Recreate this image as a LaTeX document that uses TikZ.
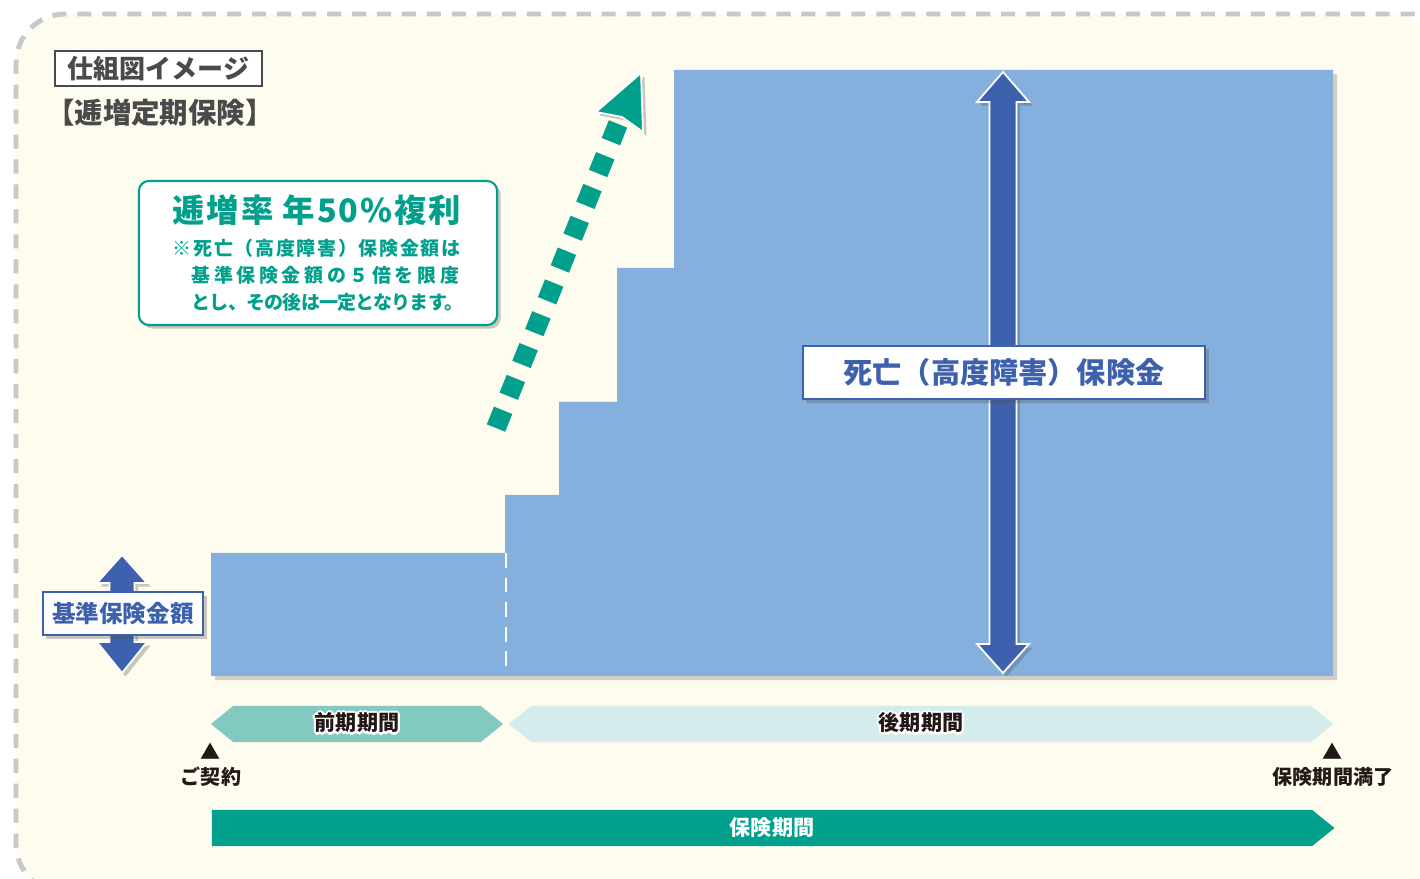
\documentclass[tikz,border=0pt]{standalone}
\usepackage{fontspec}
\setmainfont{Noto Sans CJK JP}
\usepackage{contour}
\contourlength{0.6pt}
\usetikzlibrary{shapes.symbols,shadows}

\definecolor{bgcream}{HTML}{FEFCEE}
\definecolor{stepblue}{HTML}{85B0DE}
\definecolor{darkblue}{HTML}{3D61AD}
\definecolor{mainteal}{HTML}{00A08C}
\definecolor{lightteal}{HTML}{82CAC0}
\definecolor{paleteal}{HTML}{D5ECEC}
\definecolor{dashgray}{HTML}{C8C8C8}
\definecolor{textgray}{HTML}{4A4A4A}
\definecolor{textdark}{HTML}{231815}

\newcommand{\notefont}{\fontsize{5.4}{7.7}\selectfont}

\begin{document}
\begin{tikzpicture} [
    x=0.01cm, y=-0.01cm,
    softshadow/.style={drop shadow={shadow xshift=1pt, shadow yshift=-1pt, opacity=0.3, fill=black!70}},
    labelbox/.style={rectangle, draw=darkblue, line width=0.5pt, fill=white, text=darkblue, inner sep=0pt, softshadow},
    dblarrow/.style={fill=darkblue, draw=white, line width=0.5pt, softshadow},
    period/.style={signal, signal pointer angle=78, minimum height=0.36cm, inner sep=0pt, font=\bfseries\fontsize{6}{7}\selectfont},
    marklabel/.style={align=center, text=textdark, inner sep=0pt, font=\bfseries\fontsize{5.7}{7.1}\selectfont}
]
    % 背景
    \clip (0,0) rectangle (1420,879);
    \fill[bgcream, rounded corners=14] (1440,893) -- (16,893) -- (16,14) -- (1440,14) -- cycle;
    \draw[dashgray, line width=1.4pt, dash pattern=on 4pt off 3.1pt, rounded corners=14] (1440,893) -- (16,893) -- (16,14) -- (1440,14);

    % 見出し
    \node[draw=textgray, line width=0.5pt, fill=white, text=textgray, minimum width=2.07cm, minimum height=0.35cm, inner sep=0pt, font=\bfseries\fontsize{7.4}{8}\selectfont] (title) at (158.5,68.5) {仕組図イメージ};
    \node[text=textgray, inner sep=0pt, font=\bfseries\fontsize{8.1}{9}\selectfont] (subtitle) at (160,113) {【逓増定期保険】};

    % 保険金の階段
    \fill[stepblue, drop shadow={shadow xshift=1.2pt, shadow yshift=-1.2pt, opacity=0.25, fill=black!70}]
        (211,553) -- (505,553) -- (505,495) -- (559,495) -- (559,402) -- (617,402) -- (617,268)
        -- (674,268) -- (674,70) -- (1333,70) -- (1333,676) -- (211,676) -- cycle;
    \draw[white, line width=0.8pt, dash pattern=on 4.2pt off 2.8pt] (506,553) -- (506,676);

    % 説明
    \node[rectangle, rounded corners=0.1cm, draw=mainteal, line width=0.6pt, fill=white, text=mainteal,
        minimum width=3.58cm, minimum height=1.44cm, align=left, inner sep=0pt, softshadow,
        font=\bfseries\notefont] (note) at (318,253) {%
        {\fontsize{9.2}{10}\selectfont\addfontfeature{LetterSpace=6}逓増率 年50\%複利}\\[1.7pt]
        {\notefont\addfontfeature{LetterSpace=9}※死亡（高度障害）保険金額は}\\
        {\notefont\phantom{※}\addfontfeature{LetterSpace=19}基準保険金額の５倍を限度}\\
        {\notefont\phantom{※}\addfontfeature{LetterSpace=-4}とし、その後は一定となります。}};

    % 逓増の矢印
    \coordinate (rise start) at (496,428);
    \coordinate (rise end) at (618,124);
    \draw[black, opacity=0.2, line width=5.6pt, dash pattern=on 5.4pt off 4.35pt, xshift=1.5, yshift=2] (rise start) -- (rise end);
    \draw[mainteal, line width=5.6pt, dash pattern=on 5.4pt off 4.35pt] (rise start) -- (rise end);
    \fill[mainteal, draw=white, line width=0.5pt, softshadow] (641,73) -- (643,132) -- (622,117) -- (596,112) -- cycle;

    % 死亡保険金
    \fill[dblarrow] (1003,72) -- (1029,102) -- (1016.5,102) -- (1016.5,644) -- (1029,644) -- (1003,673)
        -- (977,644) -- (989.5,644) -- (989.5,102) -- (977,102) -- cycle;
    \node[labelbox, minimum width=4.02cm, minimum height=0.53cm, font=\bfseries\fontsize{8.3}{9}\selectfont] (death) at (1004,372.5) {死亡（高度障害）保険金};

    % 基準保険金額
    \fill[dblarrow] (122,555) -- (147,583) -- (134.5,583) -- (134.5,642) -- (147,642) -- (122,673)
        -- (97,642) -- (109.5,642) -- (109.5,583) -- (97,583) -- cycle;
    \node[labelbox, minimum width=1.6cm, minimum height=0.43cm, font=\bfseries\fontsize{6.7}{8}\selectfont] (base) at (123,613.5) {基準保険金額};

    % 期間
    \node[period, signal to=west and east, fill=lightteal, minimum width=2.92cm, text=textdark] (first) at (357,724) {\contour{white}{前期期間}};
    \node[period, signal to=west and east, fill=paleteal, minimum width=8.24cm, text=textdark] (second) at (921,724) {\contour{white}{後期期間}};
    \node[period, signal to=east, fill=mainteal, minimum width=11.22cm, text=white] (term) at (762,828) {\hspace*{0.2cm}保険期間};

    \node[marklabel] (start) at (211,765) {▲\\ご契約};
    \node[marklabel] (end) at (1333,765) {▲\\保険期間満了};
\end{tikzpicture}
\end{document}
